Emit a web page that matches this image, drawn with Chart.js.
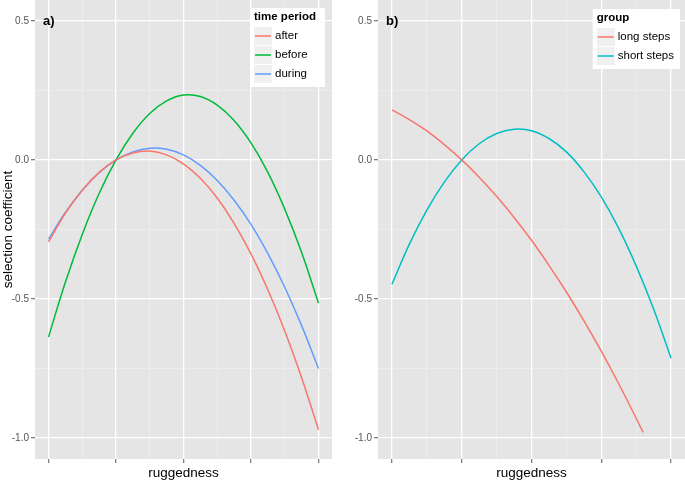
<!DOCTYPE html>
<html>
<head>
<meta charset="utf-8">
<script src="https://cdn.jsdelivr.net/npm/chart.js@4.4.1/dist/chart.umd.min.js"></script>
<style>
  html, body { margin: 0; padding: 0; background: #fff; }
  #wrap { position: relative; width: 685px; height: 480px; }
  .panel { position: absolute; top: 0; height: 480px; }
  #p1 { left: 0; width: 340px; }
  #p2 { left: 340px; width: 345px; }
</style>
</head>
<body>
<div id="wrap">
  <div class="panel" id="p1"><canvas id="chartA"></canvas></div>
  <div class="panel" id="p2"><canvas id="chartB"></canvas></div>
</div>
<script>
// ruggedness positions (axis shows no numbers, only ticks)
const xsFull = [0, 0.25, 0.5, 0.75, 1, 1.25, 1.5, 1.75, 2, 2.25, 2.5, 2.75, 3, 3.25, 3.5, 3.75, 4];
const xsLong = [0, 0.25, 0.5, 0.75, 1, 1.25, 1.5, 1.75, 2, 2.25, 2.5, 2.75, 3, 3.25, 3.5, 3.6];

// panel a) time period
const afterVals  = [-0.295, -0.192, -0.109, -0.045, 0.000, 0.025, 0.032, 0.018, -0.014, -0.066, -0.137, -0.228, -0.338, -0.467, -0.615, -0.783, -0.970];
const beforeVals = [-0.637, -0.440, -0.268, -0.121, 0.000, 0.096, 0.167, 0.212, 0.233, 0.228, 0.197, 0.142, 0.061, -0.045, -0.177, -0.333, -0.515];
const duringVals = [-0.285, -0.189, -0.109, -0.046, 0.000, 0.029, 0.042, 0.038, 0.018, -0.020, -0.074, -0.145, -0.232, -0.337, -0.458, -0.596, -0.750];

// panel b) group
const longVals  = [0.180, 0.145, 0.104, 0.055, 0.000, -0.062, -0.131, -0.207, -0.289, -0.379, -0.475, -0.578, -0.688, -0.805, -0.929, -0.980];
const shortVals = [-0.447, -0.303, -0.181, -0.080, 0.000, 0.058, 0.095, 0.110, 0.105, 0.077, 0.029, -0.042, -0.133, -0.246, -0.381, -0.536, -0.713];

// axes
const xTicks = [0, 0.5, 1, 1.5, 2, 2.5, 3, 3.5, 4];
const xMajor = [0, 1, 2, 3, 4];
const yTicks = [-1, -0.75, -0.5, -0.25, 0, 0.25, 0.5];
const yMajor = [-1, -0.5, 0, 0.5];
const yTickLabels = ['-1.0', '-0.5', '0.0', '0.5'];
const xRange = [-0.2, 4.2];
const yRange = [-1.0755, 0.575];

const FONT = '"Liberation Sans", Arial, Helvetica, sans-serif';
const PANEL_BG = '#E5E5E5';

function pts(xs, ys) {
    return ys.map((y, i) => ({ x: xs[i], y: y }));
}

function series(label, xs, ys, color) {
    return {
        label: label,
        data: pts(xs, ys),
        borderColor: color,
        backgroundColor: color,
        borderWidth: 1.5,
        pointRadius: 0,
        tension: 0.4,
        fill: false
    };
}

// grey panel background
const panelBg = {
    id: 'panelBg',
    beforeDraw(chart) {
        const a = chart.chartArea;
        const ctx = chart.ctx;
        ctx.save();
        ctx.fillStyle = PANEL_BG;
        ctx.fillRect(a.left, a.top, a.right - a.left, a.bottom - a.top);
        ctx.restore();
    }
};

// "a)" / "b)" tag plus ggplot-like legend box inside the panel
const boxLegend = {
    id: 'boxLegend',
    afterDraw(chart, args, opts) {
        const ctx = chart.ctx;
        const a = chart.chartArea;
        ctx.save();

        // panel tag
        ctx.fillStyle = '#000';
        ctx.font = 'bold 13px ' + FONT;
        ctx.textBaseline = 'middle';
        ctx.textAlign = 'left';
        ctx.fillText(opts.tag, a.left + 8, chart.scales.y.getPixelForValue(0.5) + 1);

        // legend box
        const sets = chart.data.datasets;
        const titleFont = 'bold 11.5px ' + FONT;
        const labelFont = '11.5px ' + FONT;
        ctx.font = titleFont;
        const titleW = ctx.measureText(opts.title).width;
        ctx.font = labelFont;
        let labW = 0;
        sets.forEach(d => { labW = Math.max(labW, ctx.measureText(d.label).width); });
        const keyW = 18, gap = 3, padL = 4;
        const w = padL + Math.max(titleW + 9, keyW + gap + labW + 6);
        const h = 22 + sets.length * 19;
        const right = a.right - opts.inset;
        const left = right - w;
        const top = a.top + opts.top;

        ctx.fillStyle = '#fff';
        ctx.fillRect(left, top, w, h);

        ctx.fillStyle = '#000';
        ctx.font = titleFont;
        ctx.fillText(opts.title, left + padL, top + 9);

        ctx.font = labelFont;
        sets.forEach((d, i) => {
            const cy = top + 28 + i * 19;
            ctx.fillStyle = '#F0F0F0';
            ctx.fillRect(left + padL, cy - 9, keyW, 18);
            ctx.strokeStyle = d.borderColor;
            ctx.lineWidth = 1.5;
            ctx.beginPath();
            ctx.moveTo(left + padL + 1, cy);
            ctx.lineTo(left + padL + keyW - 1, cy);
            ctx.stroke();
            ctx.fillStyle = '#000';
            ctx.fillText(d.label, left + padL + keyW + gap, cy);
        });
        ctx.restore();
    }
};

function isIn(list, ctx) {
    return ctx.tick && list.includes(ctx.tick.value);
}

function makeScales(yWidth, showYTitle) {
    return {
        x: {
            type: 'linear',
            min: xRange[0],
            max: xRange[1],
            afterBuildTicks: s => { s.ticks = xTicks.map(v => ({ value: v })); },
            afterFit: s => { s.height = 21; s.paddingLeft = 0; s.paddingRight = 0; },
            ticks: { autoSkip: false, callback: () => '' },
            grid: {
                color: c => isIn(xMajor, c) ? '#FFFFFF' : '#F2F2F2',
                lineWidth: c => isIn(xMajor, c) ? 1.3 : 0.6,
                tickColor: c => isIn(xMajor, c) ? '#7F7F7F' : 'rgba(0,0,0,0)',
                tickLength: 4
            },
            border: { display: false },
            title: {
                display: true,
                text: 'ruggedness',
                color: '#000',
                font: { size: 13.5, family: FONT, lineHeight: 1 },
                padding: { top: 0, bottom: 0 }
            }
        },
        y: {
            type: 'linear',
            min: yRange[0],
            max: yRange[1],
            afterBuildTicks: s => { s.ticks = yTicks.map(v => ({ value: v })); },
            afterFit: s => { s.width = yWidth; s.paddingTop = 0; s.paddingBottom = 0; },
            ticks: {
                autoSkip: false,
                padding: 2,
                color: '#555555',
                font: { size: 10, family: FONT },
                callback: v => {
                    const i = yMajor.indexOf(v);
                    return i < 0 ? '' : yTickLabels[i];
                }
            },
            grid: {
                color: c => isIn(yMajor, c) ? '#FFFFFF' : '#F2F2F2',
                lineWidth: c => isIn(yMajor, c) ? 1.3 : 0.6,
                tickColor: c => isIn(yMajor, c) ? '#7F7F7F' : 'rgba(0,0,0,0)',
                tickLength: 4
            },
            border: { display: false },
            title: {
                display: showYTitle,
                text: 'selection coefficient',
                color: '#000',
                font: { size: 13.5, family: FONT },
                padding: { top: 0, bottom: 0 }
            }
        }
    };
}

function makeChart(id, datasets, yWidth, showYTitle, padRight, legendOpts) {
    return new Chart(document.getElementById(id).getContext('2d'), {
        type: 'line',
        data: { datasets: datasets },
        options: {
            responsive: true,
            maintainAspectRatio: false,
            animation: false,
            layout: { padding: { top: 0, right: padRight, bottom: 0, left: 0 } },
            plugins: {
                legend: { display: false },
                tooltip: { enabled: false },
                boxLegend: legendOpts
            },
            scales: makeScales(yWidth, showYTitle)
        },
        plugins: [panelBg, boxLegend]
    });
}

makeChart('chartA', [
    series('after', xsFull, afterVals, '#F8766D'),
    series('before', xsFull, beforeVals, '#00BA38'),
    series('during', xsFull, duringVals, '#619CFF')
], 35, true, 8, { tag: 'a)', title: 'time period', inset: 7, top: 8 });

makeChart('chartB', [
    series('long steps', xsLong, longVals, '#F8766D'),
    series('short steps', xsFull, shortVals, '#00BFC4')
], 38, false, 0, { tag: 'b)', title: 'group', inset: 5, top: 9 });
</script>
</body>
</html>
